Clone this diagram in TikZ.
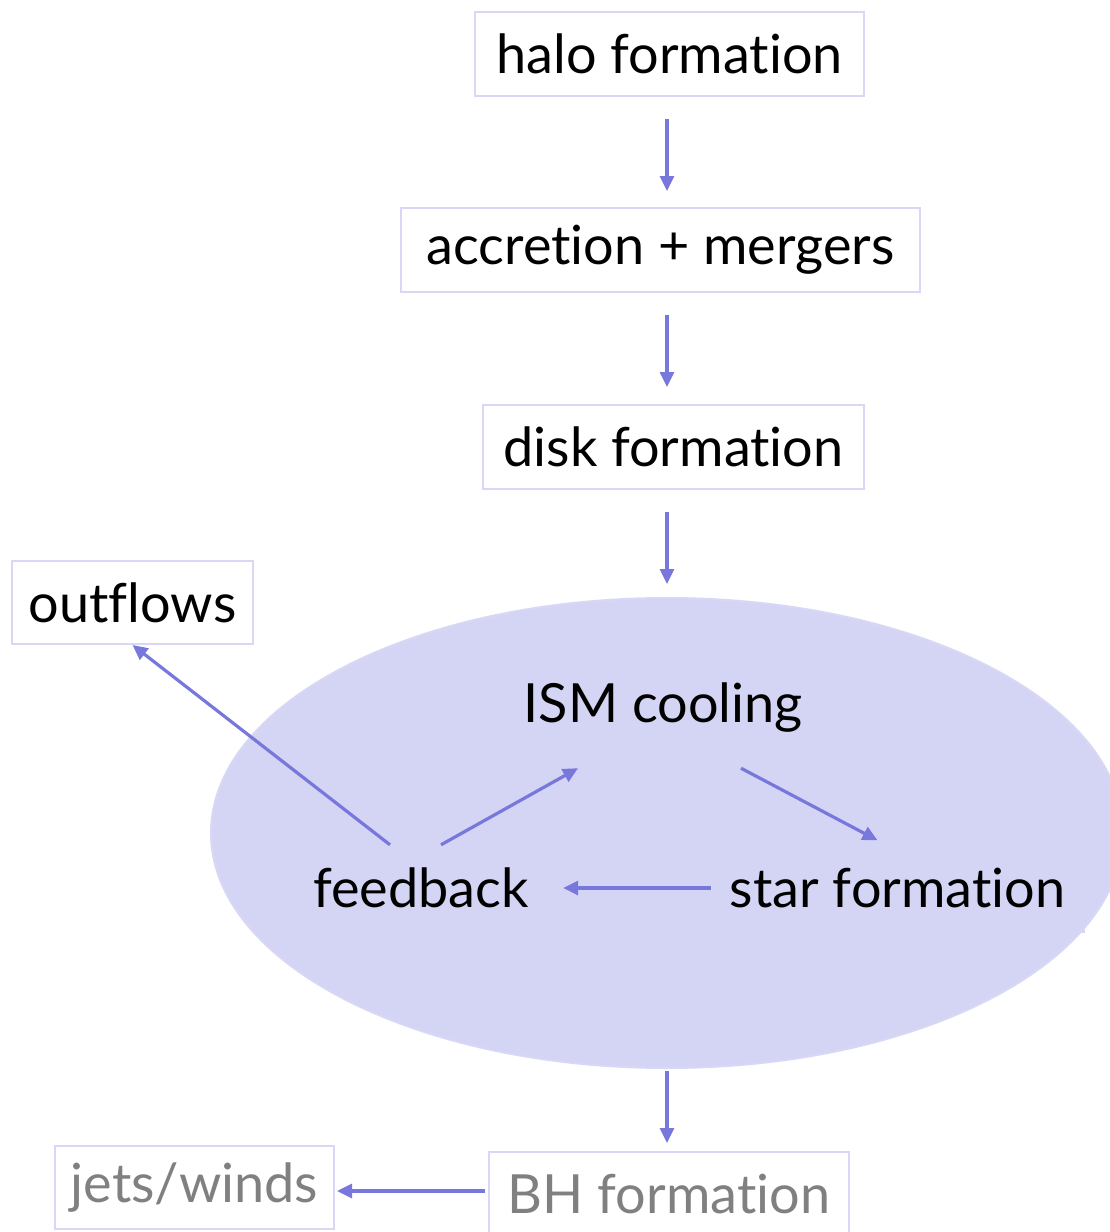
\documentclass[tikz,border=0pt]{standalone}
\usepackage{fontspec}
\setmainfont{Lato}[Ligatures={NoCommon}]
\usetikzlibrary{arrows.meta,calc,shapes.geometric}
\definecolor{arrowblue}{RGB}{120,120,220}
\definecolor{edgeblue}{RGB}{216,216,246}
\definecolor{diskfill}{RGB}{212,212,244}
\definecolor{fadegray}{RGB}{128,128,128}
\tikzset{
  stage/.style={
    rectangle,
    draw=edgeblue,
    line width=2pt,
    fill=white,
    align=center,
    inner sep=0pt,
    minimum height=84pt,
    font=\fontsize{54}{60}\selectfont
  },
  inner/.style={
    rectangle,
    align=center,
    inner sep=0pt,
    minimum height=86pt,
    font=\fontsize{54}{60}\selectfont
  },
  flow/.style={-{Triangle[length=15pt,width=14pt]}, draw=arrowblue, line width=3.2pt}
}
\begin{document}
\begin{tikzpicture}[x=1pt,y=-1pt]
  \useasboundingbox (0,0) rectangle (1109,1232);
  \coordinate (spine) at (667,0);
  \coordinate (jetline) at (0,1191);
  \node[stage, minimum width=389pt] (halo) at (669.5,54) {halo formation};
  \node[stage, minimum width=519pt] (accretion) at (660.5,250) {accretion + mergers};
  \node[stage, minimum width=381pt] (disk) at (673.5,447) {disk formation};
  \node[stage, minimum width=241pt, minimum height=83pt] (outflows) at (132.5,602.5) {outflows};
  \node[stage, minimum width=373pt, minimum height=86pt] (starframe) at (897.5,888.5) {};
  \node[ellipse, fill=diskfill, draw=edgeblue, line width=2pt, minimum width=912pt, minimum height=470pt] (galaxy) at (667,833) {};
  \node[inner, minimum width=326pt, minimum height=120pt] (ism) at (663,708) {ISM cooling};
  \node[inner, minimum width=280pt] (feedback) at (421,888) {feedback};
  \node[inner, minimum width=373pt] (star) at (starframe) {star formation};
  \node[stage, minimum width=360pt, minimum height=84pt, text=fadegray] (bh) at (669,1194) {BH formation};
  \node[stage, minimum width=279pt, minimum height=83pt, text=fadegray] (jets) at (194.5,1187.5) {jets/winds};

  \draw[flow, shorten <=22pt, shorten >=16pt] (halo.south -| spine) -- (accretion.north -| spine);
  \draw[flow, shorten <=22pt, shorten >=17pt] (accretion.south -| spine) -- (disk.north -| spine);
  \draw[flow, shorten <=22pt, shorten >=13pt] (disk.south -| spine) -- (galaxy.north -| spine);
  \draw[flow, shorten <=2pt, shorten >=8pt] (galaxy.south -| spine) -- (bh.north -| spine);
  \draw[flow, shorten <=3pt, shorten >=2pt] (bh.west |- jetline) -- (jets.east |- jetline);
  \draw[flow] ($(feedback.north)+(-31,0)$) -- (outflows.south);
  \draw[flow] ($(feedback.north)+(20,0)$) -- ($(ism.south)+(-85,0)$);
  \draw[flow] ($(ism.south)+(78,0)$) -- ($(star.north)+(-20,-5)$);
  \draw[flow, shorten >=2pt] (star.west |- feedback) -- (feedback.east);
\end{tikzpicture}
\end{document}
